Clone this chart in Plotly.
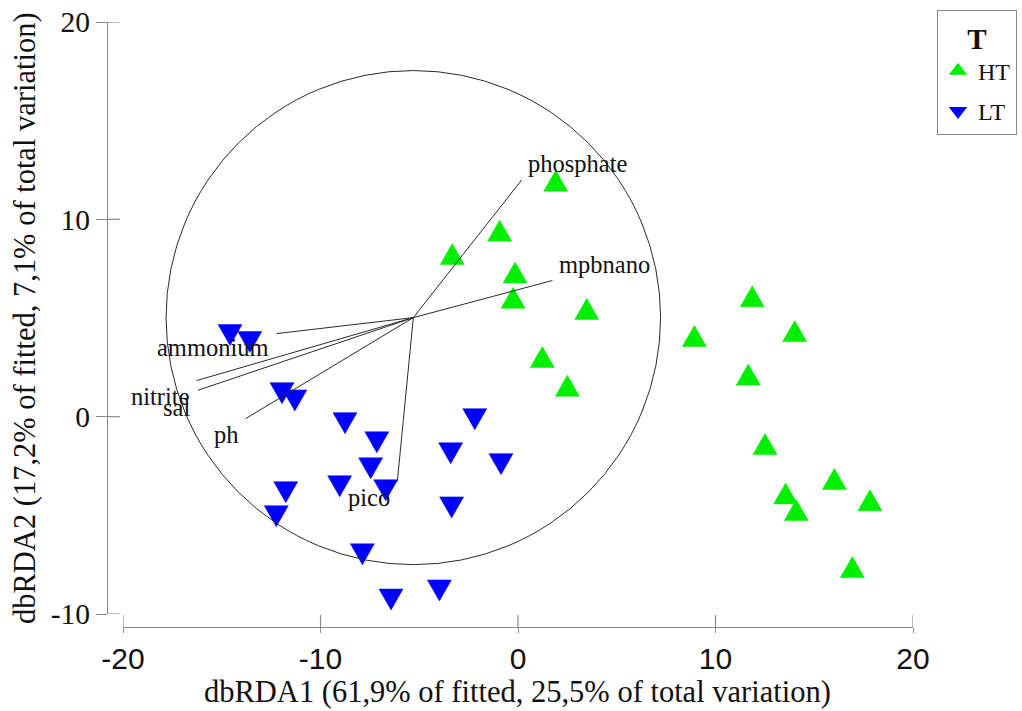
import plotly.graph_objects as go

# Sample scores on the first two dbRDA axes, by temperature group
ht_x = [1.91, -0.93, -3.33, -0.15, -0.25, 3.48, 1.23, 2.50, 8.93,
        11.86, 14.01, 11.66, 12.51, 16.02, 13.55, 14.09, 17.82, 16.93]
ht_y = [11.78, 9.25, 8.06, 7.13, 5.85, 5.28, 2.85, 1.39, 3.91,
        5.92, 4.16, 1.96, -1.56, -3.33, -4.07, -4.91, -4.41, -7.80]

lt_x = [-14.58, -13.58, -11.95, -11.30, -8.76, -7.15, -7.46, -9.03, -6.70,
        -11.76, -12.24, -7.88, -6.43, -3.98, -2.19, -3.41, -0.86, -3.36]
lt_y = [4.31, 3.96, 1.37, 1.00, -0.15, -1.12, -2.44, -3.35, -3.55,
        -3.65, -4.87, -6.80, -9.09, -8.63, 0.05, -1.68, -2.23, -4.42]

# Predictor vectors (tips) drawn from a common origin, plus the circle
vec_names = ["phosphate", "mpbnano", "ammonium", "nitrite", "sal", "ph", "pico"]
vec_x = [0.19, 1.74, -12.22, -16.27, -16.20, -13.79, -6.11]
vec_y = [12.00, 6.90, 4.21, 1.83, 1.34, -0.10, -3.28]
origin_x, origin_y = -5.30, 5.02
circle_r = 12.52

x_ticks = [-20, -10, 0, 10, 20]
y_ticks = [-10, 0, 10, 20]
x_range = [-20, 20]
y_range = [-10, 20]

x_title = "dbRDA1 (61,9% of fitted, 25,5% of total variation)"
y_title = "dbRDA2 (17,2% of fitted, 7,1% of total variation)"

# ---- page geometry (pixels) ----
W, H = 1022, 711
ML, MR, MT, MB = 100, 109, 22, 71
PLOT_L, PLOT_R, PLOT_T, PLOT_B = 123, 913, 22, 614
YLINE_X, XLINE_Y = 107, 627

PW, PH = W - ML - MR, H - MT - MB


def fx(p):
    return (p - ML) / PW


def fy(p):
    return (H - MB - p) / PH


ppx = (PLOT_R - PLOT_L) / (x_range[1] - x_range[0])
ppy = (PLOT_B - PLOT_T) / (y_range[1] - y_range[0])

# triangle glyph size in data units
TRI_W, TRI_H = 24 / ppx, 21 / ppy


def triangles(xs, ys, up):
    px, py = [], []
    for x, y in zip(xs, ys):
        if up:
            pts = [(x - TRI_W / 2, y - TRI_H / 3), (x + TRI_W / 2, y - TRI_H / 3),
                   (x, y + 2 * TRI_H / 3)]
        else:
            pts = [(x - TRI_W / 2, y + TRI_H / 3), (x + TRI_W / 2, y + TRI_H / 3),
                   (x, y - 2 * TRI_H / 3)]
        pts.append(pts[0])
        for a, b in pts:
            px.append(a)
            py.append(b)
        px.append(None)
        py.append(None)
    return px, py


GREEN = "#00ee00"
BLUE = "#0000ff"
AXIS_GREY = "#8a8a8a"
INK = "#2a2a2a"
SERIF = "Liberation Serif, Times New Roman, serif"
SANS = "Liberation Sans, Arial, sans-serif"

fig = go.Figure()

for xs, ys, up, col in [(ht_x, ht_y, True, GREEN), (lt_x, lt_y, False, BLUE)]:
    tx, ty = triangles(xs, ys, up)
    fig.add_trace(go.Scatter(
        x=tx, y=ty, mode="lines", fill="toself", fillcolor=col,
        line=dict(color=col, width=0.5), hoverinfo="skip", showlegend=False,
    ))

# vectors
lx, ly = [], []
for vx, vy in zip(vec_x, vec_y):
    lx += [origin_x, vx, None]
    ly += [origin_y, vy, None]
fig.add_trace(go.Scatter(x=lx, y=ly, mode="lines", line=dict(color=INK, width=1),
                         hoverinfo="skip", showlegend=False))

# legend entries
fig.add_trace(go.Scatter(x=[None], y=[None], mode="markers", name="HT", legendgroup="HT",
                         marker=dict(symbol="triangle-up", size=16, color=GREEN)))
fig.add_trace(go.Scatter(x=[None], y=[None], mode="markers", name="LT", legendgroup="LT",
                         marker=dict(symbol="triangle-down", size=16, color=BLUE)))

shapes = [
    dict(type="circle", xref="x", yref="y",
         x0=origin_x - circle_r, x1=origin_x + circle_r,
         y0=origin_y - circle_r, y1=origin_y + circle_r,
         line=dict(color=INK, width=1)),
]
# inner halves of the tick marks
for t in y_ticks:
    shapes.append(dict(type="line", xref="paper", yref="y", x0=fx(YLINE_X), x1=fx(120),
                       y0=t, y1=t, line=dict(color=AXIS_GREY, width=1.2)))
for t in x_ticks:
    shapes.append(dict(type="line", xref="x", yref="paper", x0=t, x1=t,
                       y0=fy(XLINE_Y), y1=fy(615), line=dict(color=AXIS_GREY, width=1.2)))

# vector labels: (xanchor, dx px, dy px) relative to each tip
label_place = {
    "phosphate": ("left", 4, 16),
    "mpbnano": ("left", 5, 16),
    "ammonium": ("right", -6, -14),
    "nitrite": ("right", -5, -16),
    "sal": ("right", -6, -17),
    "ph": ("right", -5, -16),
    "pico": ("right", -5, -16),
}
annotations = []
for name, vx, vy in zip(vec_names, vec_x, vec_y):
    xa, dx, dy = label_place[name]
    annotations.append(dict(x=vx, y=vy, xref="x", yref="y", text=name, showarrow=False,
                            xanchor=xa, yanchor="middle", xshift=dx, yshift=dy,
                            font=dict(family=SERIF, size=24.5, color="#111")))

annotations.append(dict(x=fx(517), y=fy(692), xref="paper", yref="paper", text=x_title,
                        showarrow=False, xanchor="center", yanchor="middle",
                        font=dict(family=SERIF, size=30.5, color="#111")))
annotations.append(dict(x=fx(25), y=fy(318), xref="paper", yref="paper", text=y_title,
                        showarrow=False, xanchor="center", yanchor="middle", textangle=-90,
                        font=dict(family=SERIF, size=30.5, color="#111")))

fig.update_layout(
    width=W, height=H,
    margin=dict(l=ML, r=MR, t=MT, b=MB, pad=0, autoexpand=False),
    plot_bgcolor="white", paper_bgcolor="white",
    xaxis=dict(
        domain=[fx(PLOT_L), 1], range=x_range, anchor="free", position=fy(XLINE_Y),
        showgrid=False, zeroline=False, showline=True, linecolor=AXIS_GREY, linewidth=1.2,
        tickmode="array", tickvals=x_ticks, ticktext=[str(t) for t in x_ticks],
        ticks="outside", ticklen=5, tickwidth=1.2, tickcolor=AXIS_GREY,
        tickfont=dict(family=SANS, size=30, color="#111"),
        automargin=False,
    ),
    yaxis=dict(
        domain=[fy(PLOT_B), 1], range=y_range, anchor="free", position=fx(YLINE_X),
        showgrid=False, zeroline=False, showline=True, linecolor=AXIS_GREY, linewidth=1.2,
        tickmode="array", tickvals=y_ticks, ticktext=[str(t) for t in y_ticks],
        ticks="outside", ticklen=11, tickwidth=1.2, tickcolor=AXIS_GREY,
        tickfont=dict(family=SERIF, size=29.5, color="#111"),
        automargin=False,
    ),
    shapes=shapes,
    annotations=annotations,
    showlegend=True,
    legend=dict(
        x=fx(937), y=fy(10), xanchor="left", yanchor="top",
        bgcolor="white", bordercolor=AXIS_GREY, borderwidth=1,
        traceorder="grouped", tracegroupgap=6,
        title=dict(text="<b>T</b>", side="top center",
                   font=dict(family=SERIF, size=29, color="#111")),
        font=dict(family=SERIF, size=24, color="#111"),
    ),
)

fig.write_html("out.html")
